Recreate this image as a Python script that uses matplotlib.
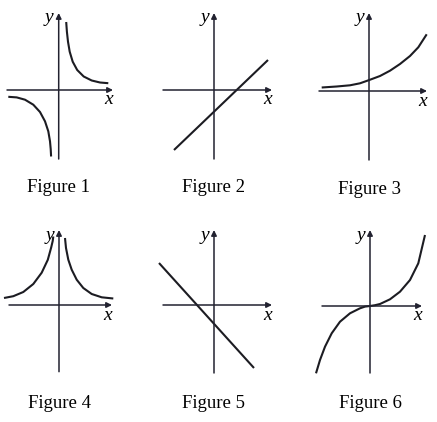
import matplotlib.pyplot as plt

# panel origins in image pixels (x right, y down)
origins = [(58.7, 90), (214, 90), (369, 91), (59, 305), (214, 305), (370, 306)]
# axis extents relative to origin: (x_min, x_max, y_min, y_max)
axis_ext = [(-51.7, 54.3, -69, 77), (-51, 58, -69, 77), (-50, 58, -69, 78),
            (-50, 53, -66.7, 75), (-51, 58, -68, 75), (-48, 52, -67, 76)]
captions = ['Figure 1', 'Figure 2', 'Figure 3', 'Figure 4', 'Figure 5', 'Figure 6']

# curves, in pixels relative to each origin (y up)
fig1_upper_x = [7.5, 8.2, 9.3, 11, 14, 18.5, 25, 33, 41.3, 49.6]
fig1_upper_y = [68, 58.3, 48.3, 38.3, 28.3, 20, 13.5, 9.5, 7.5, 6.8]
fig1_lower_x = [-50.4, -42, -33.7, -25.4, -18.7, -13.7, -10.4, -8.7, -8, -7.6]
fig1_lower_y = [-6.8, -7.4, -9.7, -14.7, -22, -31.3, -41.3, -51.3, -59, -66.5]

fig2_x = [-40, 54]
fig2_y = [-60, 30]

fig3_x = [-47.3, -32.3, -19, -9, 0.3, 11, 21, 31, 41, 49.3, 57.7]
fig3_y = [3.5, 4.5, 5.7, 7.7, 11, 15, 20.3, 27, 35, 43.7, 56.7]

fig4_left_x = [-55, -45.7, -35.7, -25.7, -17.3, -11.2, -7.8, -6.3, -5.7]
fig4_left_y = [7, 8.8, 13, 21, 32.3, 45.2, 57.6, 64, 68.5]
fig4_right_x = [6, 7, 9.3, 12.7, 17.7, 24.3, 32.7, 42.7, 54.3]
fig4_right_y = [67, 57, 45.3, 35.3, 25.3, 17, 11, 7.7, 6.5]

fig5_x = [-55, 40]
fig5_y = [42, -63]

fig6_x = [-54, -50, -45, -38.3, -30, -20, -10, -5, 0, 5, 10, 20, 30, 40, 48.3, 55]
fig6_y = [-67.3, -54, -40.7, -27.3, -15.7, -7.3, -2.3, -0.6, 0, 0.8, 2, 6.7, 14.3, 26, 42.7, 71]

curves = [
    [(fig1_upper_x, fig1_upper_y), (fig1_lower_x, fig1_lower_y)],
    [(fig2_x, fig2_y)],
    [(fig3_x, fig3_y)],
    [(fig4_left_x, fig4_left_y), (fig4_right_x, fig4_right_y)],
    [(fig5_x, fig5_y)],
    [(fig6_x, fig6_y)],
]

W, H = 437, 422
fig = plt.figure(figsize=(W / 100, H / 100), dpi=100)
fig.patch.set_facecolor('white')

serif = ['Liberation Serif', 'DejaVu Serif']
axis_color = '#222230'
curve_color = '#1c1c22'

for i, (ox, oy) in enumerate(origins):
    ax = fig.add_axes([(ox - 70) / W, (H - (oy + 110)) / H, 140 / W, 200 / H])
    ax.set_xlim(-70, 70)
    ax.set_ylim(-110, 90)
    ax.axis('off')

    x0, x1, y0, y1 = axis_ext[i]
    arrow = dict(arrowstyle='-|>', lw=1.1, color=axis_color,
                 mutation_scale=8, shrinkA=0, shrinkB=0)
    ax.annotate('', xy=(x1, 0), xytext=(x0, 0), arrowprops=arrow)
    ax.annotate('', xy=(0, y1), xytext=(0, y0), arrowprops=arrow)

    for cx, cy in curves[i]:
        ax.plot(cx, cy, color=curve_color, lw=1.5, solid_capstyle='butt',
                solid_joinstyle='round')

    ax.text(-9.5, y1 - 5, 'y', fontsize=14, style='italic', family=serif,
            ha='center', va='center')
    ax.text(x1 - 4, -10, 'x', fontsize=14, style='italic', family=serif,
            ha='center', va='center')
    ax.text(0, -98, captions[i], fontsize=13.5, family=serif,
            ha='center', va='center')

plt.savefig('out.png', dpi=100)
